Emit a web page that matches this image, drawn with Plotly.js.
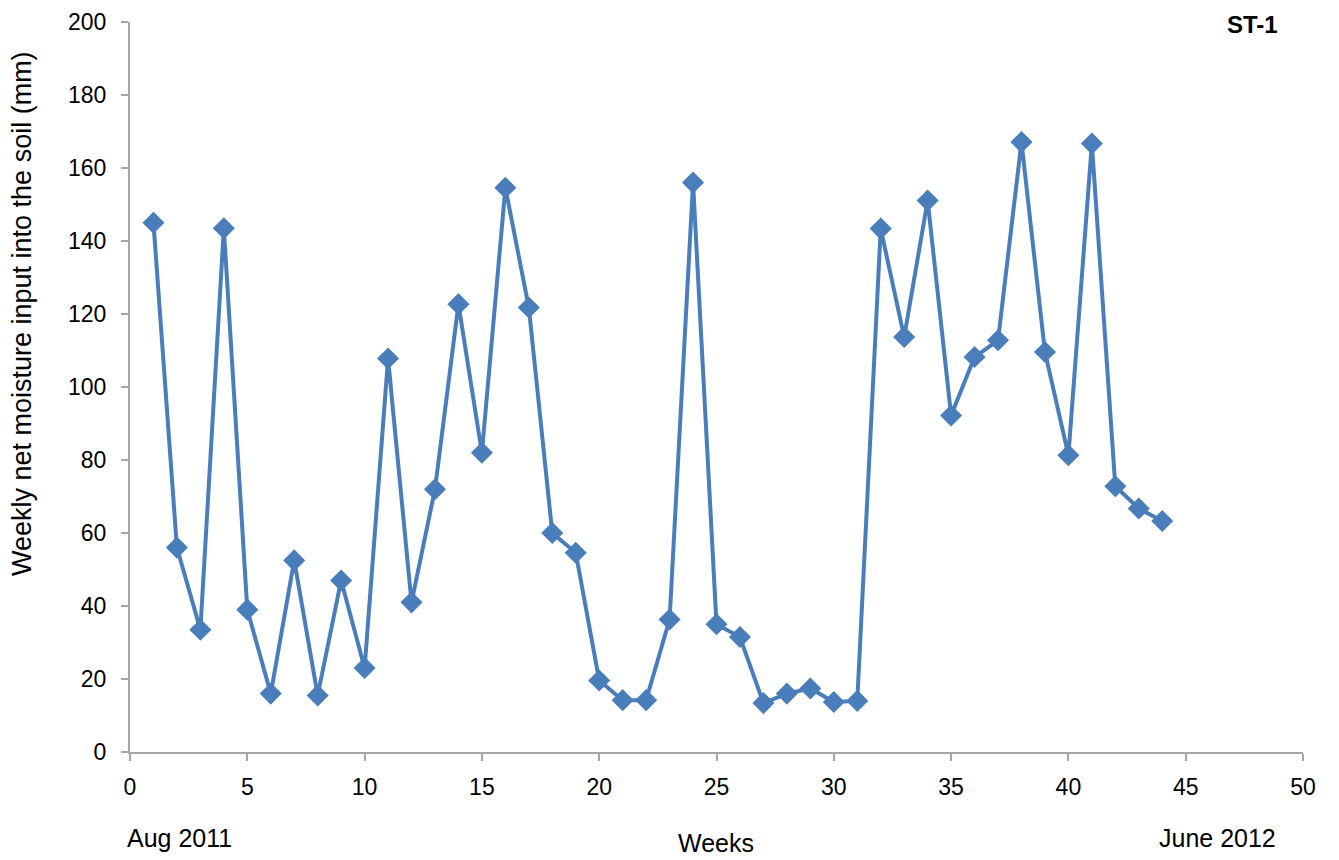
<!DOCTYPE html>
<html>
<head>
<meta charset="utf-8">
<script src="https://cdn.plot.ly/plotly-3.0.1.min.js"></script>
<style>html,body{margin:0;padding:0;background:#fff;}#chart{width:1339px;height:860px;}</style>
</head>
<body>
<div id="chart"></div>
<script>
const weeks = [1,2,3,4,5,6,7,8,9,10,11,12,13,14,15,16,17,18,19,20,21,22,23,24,25,26,27,28,29,30,31,32,33,34,35,36,37,38,39,40,41,42,43,44];
const moisture = [145,56,33.5,143.5,39,16,52.5,15.5,47,23,107.8,41,72,122.7,82,154.6,121.8,60,54.6,19.6,14.2,14.2,36.3,156,35,31.5,13.4,16,17.4,13.7,14,143.4,113.7,151.1,92.2,108.2,112.8,167.1,109.6,81.3,166.7,72.8,66.7,63.3];
const xTicks = [0,5,10,15,20,25,30,35,40,45,50];
const yTicks = [0,20,40,60,80,100,120,140,160,180,200];

const font = "Arial, 'Liberation Sans', sans-serif";
const trace = {
  x: weeks, y: moisture, type: 'scatter', mode: 'lines+markers',
  line: {color: '#4a7ebb', width: 4},
  marker: {symbol: 'diamond', size: 17, color: '#4a7ebb'},
  cliponaxis: false
};
const layout = {
  width: 1339, height: 860,
  margin: {l: 130, r: 36, t: 22, b: 108},
  paper_bgcolor: '#fff', plot_bgcolor: '#fff',
  showlegend: false,
  font: {family: font, size: 23, color: '#000'},
  xaxis: {
    range: [0, 50], tickvals: xTicks, ticktext: xTicks.map(String),
    showgrid: false, zeroline: false, showline: true, linecolor: '#a6a6a6', linewidth: 2,
    ticks: 'outside', ticklen: 7, tickcolor: '#a6a6a6', tickwidth: 2,
    ticklabelstandoff: 6,
    tickfont: {family: font, size: 23, color: '#000'}
  },
  yaxis: {
    range: [0, 200], tickvals: yTicks, ticktext: yTicks.map(String),
    showgrid: false, zeroline: false, showline: true, linecolor: '#a6a6a6', linewidth: 2,
    ticks: 'outside', ticklen: 7, tickcolor: '#a6a6a6', tickwidth: 2,
    ticklabelstandoff: 10,
    tickfont: {family: font, size: 23, color: '#000'}
  },
  annotations: [
    {text: 'Weekly net moisture input into the soil (mm)', textangle: -90, xref: 'paper', yref: 'paper', x: -0.092, y: 0.6, xanchor: 'center', yanchor: 'middle', showarrow: false, font: {family: font, size: 27, color: '#000'}},
    {text: 'Weeks', xref: 'paper', yref: 'paper', x: 0.4996, y: -0.1247, xanchor: 'center', yanchor: 'middle', showarrow: false, font: {family: font, size: 25, color: '#000'}},
    {text: 'Aug 2011', xref: 'paper', yref: 'paper', x: 0.0426, y: -0.1178, xanchor: 'center', yanchor: 'middle', showarrow: false, font: {family: font, size: 25, color: '#000'}},
    {text: 'June 2012', xref: 'paper', yref: 'paper', x: 0.9275, y: -0.1178, xanchor: 'center', yanchor: 'middle', showarrow: false, font: {family: font, size: 25, color: '#000'}},
    {text: '<b>ST-1</b>', xref: 'paper', yref: 'paper', x: 0.957, y: 0.9959, xanchor: 'center', yanchor: 'middle', showarrow: false, font: {family: font, size: 24, color: '#000'}}
  ]
};
Plotly.newPlot('chart', [trace], layout, {displayModeBar: false, responsive: false});
</script>
</body>
</html>
